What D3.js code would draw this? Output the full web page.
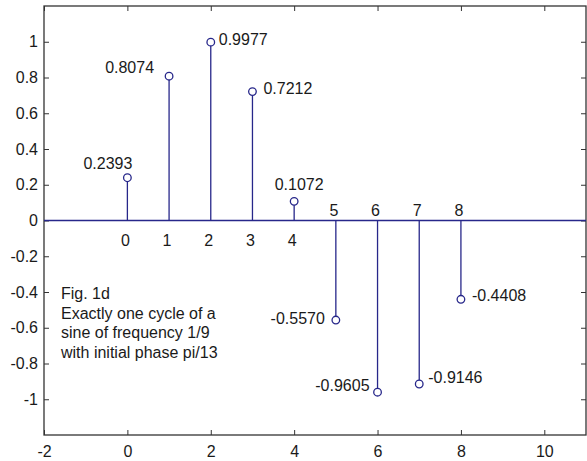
<!DOCTYPE html>
<html>
<head>
<meta charset="utf-8">
<script src="https://cdn.jsdelivr.net/npm/d3@7"></script>
<style>
  body { margin: 0; background: #fff; }
  svg text { font-family: Arial, "Liberation Sans", sans-serif; fill: #1a1a1a; }
</style>
</head>
<body>
<div id="chart"></div>
<script>
// data
var indices = [0, 1, 2, 3, 4, 5, 6, 7, 8];
var values = [0.2393, 0.8074, 0.9977, 0.7212, 0.1072, -0.5570, -0.9605, -0.9146, -0.4408];
var xTicks = [-2, 0, 2, 4, 6, 8, 10];
var yTicks = [-1, -0.8, -0.6, -0.4, -0.2, 0, 0.2, 0.4, 0.6, 0.8, 1];
var noteLines = ["Fig. 1d", "Exactly one cycle of a", "sine of frequency 1/9", "with initial phase pi/13"];

// where each value label sits relative to its marker (anchor, dx, dy)
var labelPos = [
	["end", 5, -9], ["end", -15, -3], ["start", 8, 3], ["start", 11, 2], ["middle", 5, -11],
	["end", -11, 4], ["end", -8, -1], ["start", 9, -1], ["start", 11, 2]
];

var w = 587, h = 461;
var mLeft = 44, mRight = 586, mTop = 6, mBottom = 435;
var stemColor = "#27278a";
var fs = "16px";
var fmt = function(d) { return String(d); };

var svg = d3.select("#chart")
			.append("svg")
			.attr("width", w)
			.attr("height", h);

var x = d3.scaleLinear().domain([-2, 11]).range([mLeft, mRight]);
var y = d3.scaleLinear().domain([-1.2, 1.2]).range([mBottom, mTop]);

//frame with inward ticks on all sides
svg.append("g")
   .attr("transform", "translate(0," + mBottom + ")")
   .call(d3.axisBottom(x).tickValues(xTicks).tickSizeInner(-5).tickSizeOuter(0).tickPadding(11).tickFormat(fmt))
   .call(function(g) {
   		g.select(".domain").remove();
   		g.selectAll("text").attr("font-size", fs).attr("dy", "0.71em");
   });
svg.append("g")
   .attr("transform", "translate(0," + mTop + ")")
   .call(d3.axisTop(x).tickValues(xTicks).tickSizeInner(-5).tickSizeOuter(0).tickFormat(""))
   .call(function(g) { g.select(".domain").remove(); });
svg.append("g")
   .attr("transform", "translate(" + mLeft + ",0)")
   .call(d3.axisLeft(y).tickValues(yTicks).tickSizeInner(-5).tickSizeOuter(0).tickPadding(6).tickFormat(fmt))
   .call(function(g) {
   		g.select(".domain").remove();
   		g.selectAll("text").attr("font-size", fs);
   });
svg.append("g")
   .attr("transform", "translate(" + mRight + ",0)")
   .call(d3.axisRight(y).tickValues(yTicks).tickSizeInner(-5).tickSizeOuter(0).tickFormat(""))
   .call(function(g) { g.select(".domain").remove(); });

svg.selectAll(".tick line").attr("stroke", "#333");

svg.append("rect")
   .attr("x", mLeft)
   .attr("y", mTop)
   .attr("width", mRight - mLeft)
   .attr("height", mBottom - mTop)
   .attr("fill", "none")
   .attr("stroke", "#333")
   .attr("stroke-width", 1.3);

//baseline
svg.append("line")
   .attr("x1", mLeft)
   .attr("x2", mRight)
   .attr("y1", y(0))
   .attr("y2", y(0))
   .attr("stroke", stemColor)
   .attr("stroke-width", 1.3);

//stems
svg.selectAll("line.stem")
   .data(values)
   .enter()
   .append("line")
   .attr("class", "stem")
   .attr("x1", function(d, i) { return x(indices[i]); })
   .attr("x2", function(d, i) { return x(indices[i]); })
   .attr("y1", y(0))
   .attr("y2", function(d) { return y(d); })
   .attr("stroke", stemColor)
   .attr("stroke-width", 1.3);

svg.selectAll("circle")
   .data(values)
   .enter()
   .append("circle")
   .attr("cx", function(d, i) { return x(indices[i]); })
   .attr("cy", function(d) { return y(d); })
   .attr("r", 3.8)
   .attr("fill", "#fff")
   .attr("stroke", stemColor)
   .attr("stroke-width", 1.3);

//value labels
svg.selectAll("text.val")
   .data(values)
   .enter()
   .append("text")
   .attr("class", "val")
   .text(function(d) { return d.toFixed(4); })
   .attr("text-anchor", function(d, i) { return labelPos[i][0]; })
   .attr("x", function(d, i) { return x(indices[i]) + labelPos[i][1]; })
   .attr("y", function(d, i) { return y(d) + labelPos[i][2]; })
   .attr("font-size", fs);

//index labels next to the baseline
svg.selectAll("text.idx")
   .data(indices)
   .enter()
   .append("text")
   .attr("class", "idx")
   .text(function(d) { return d; })
   .attr("text-anchor", "middle")
   .attr("x", function(d) { return x(d) - 2; })
   .attr("y", function(d, i) { return values[i] >= 0 ? y(0) + 25 : y(0) - 5; })
   .attr("font-size", fs);

//note
svg.selectAll("text.note")
   .data(noteLines)
   .enter()
   .append("text")
   .attr("class", "note")
   .text(function(d) { return d; })
   .attr("x", 61)
   .attr("y", function(d, i) { return 299 + i * 19.7; })
   .attr("font-size", fs);
</script>
</body>
</html>
